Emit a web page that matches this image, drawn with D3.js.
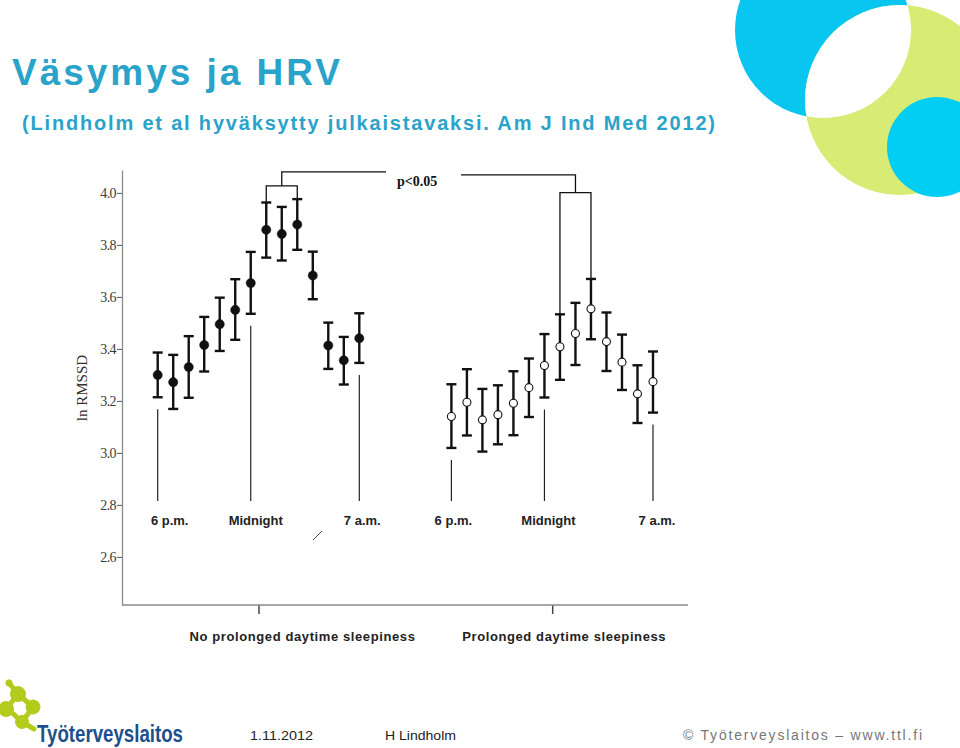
<!DOCTYPE html>
<html><head><meta charset="utf-8">
<script src="https://cdn.jsdelivr.net/npm/d3@7"></script>
<style>body{margin:0;background:#fff}svg{display:block}</style>
</head><body>
<script>
// ---------- data ----------
const groups = ["No prolonged daytime sleepiness", "Prolonged daytime sleepiness"];
const yTicks = [2.6, 2.8, 3.0, 3.2, 3.4, 3.6, 3.8, 4.0];
const timeLabels = ["6 p.m.", "Midnight", "7 a.m."];
const timeIndex = [0, 6, 13];
const noSleepMean = [3.300, 3.272, 3.330, 3.415, 3.495, 3.550, 3.653, 3.858, 3.842, 3.878, 3.682, 3.413, 3.356, 3.441];
const noSleepHigh = [3.386, 3.377, 3.449, 3.523, 3.597, 3.668, 3.773, 3.963, 3.946, 3.976, 3.774, 3.501, 3.446, 3.537];
const noSleepLow  = [3.214, 3.169, 3.212, 3.313, 3.392, 3.435, 3.535, 3.751, 3.740, 3.781, 3.591, 3.323, 3.263, 3.346];
const sleepMean = [3.140, 3.195, 3.127, 3.147, 3.191, 3.251, 3.336, 3.408, 3.459, 3.554, 3.428, 3.349, 3.227, 3.274];
const sleepHigh = [3.264, 3.322, 3.246, 3.260, 3.314, 3.363, 3.457, 3.533, 3.577, 3.669, 3.540, 3.455, 3.337, 3.390];
const sleepLow  = [3.019, 3.067, 3.005, 3.033, 3.068, 3.138, 3.213, 3.281, 3.338, 3.437, 3.315, 3.242, 3.115, 3.155];
const pLabel = "p<0.05";

const W = 960, H = 748;
const svg = d3.select("body").append("svg").attr("width", W).attr("height", H)
  .style("background", "#fff");

// ---------- decorative circles ----------
const deco = svg.append("g");
deco.append("clipPath").attr("id", "blueClip").append("circle").attr("cx", 823).attr("cy", 30).attr("r", 88);
deco.append("circle").attr("cx", 823).attr("cy", 30).attr("r", 88).attr("fill", "#08c6ef");
deco.append("circle").attr("cx", 900).attr("cy", 100).attr("r", 95).attr("fill", "#d8eb74");
deco.append("circle").attr("cx", 900).attr("cy", 100).attr("r", 95).attr("fill", "#fff").attr("clip-path", "url(#blueClip)");
deco.append("circle").attr("cx", 937).attr("cy", 147).attr("r", 50).attr("fill", "#02cdf2");

// ---------- titles ----------
svg.append("text").attr("x", 12).attr("y", 85).text("Väsymys ja HRV")
  .attr("font-family", "Liberation Sans, Arial, sans-serif").attr("font-weight", "bold")
  .attr("font-size", 37).attr("fill", "#2aa3ca").attr("textLength", 328).attr("lengthAdjust", "spacing");
svg.append("text").attr("x", 22).attr("y", 130).text("(Lindholm et al hyväksytty julkaistavaksi. Am J Ind Med 2012)")
  .attr("font-family", "Liberation Sans, Arial, sans-serif").attr("font-weight", "bold")
  .attr("font-size", 20).attr("fill", "#2aa3ca").attr("textLength", 693).attr("lengthAdjust", "spacing");

// ---------- scales ----------
const y = d3.scaleLinear().domain([2.415, 4.088]).range([605, 170]);
const gx = d3.scalePoint().domain(groups).range([258.5, 552.2]);
const xi = d3.scaleLinear().domain([0, 13]).range([-100.8, 100.8]);
const series = [
  {g: groups[0], mean: noSleepMean, hi: noSleepHigh, lo: noSleepLow, open: false},
  {g: groups[1], mean: sleepMean, hi: sleepHigh, lo: sleepLow, open: true}
];

// ---------- axes ----------
const yAxis = svg.append("g").attr("transform", "translate(122,0)")
  .call(d3.axisLeft(y).tickValues(yTicks).tickFormat(d3.format(".1f")).tickSize(5).tickSizeOuter(0));
yAxis.select(".domain").attr("stroke", "#8a8a8a").attr("stroke-width", 1.3);
yAxis.selectAll(".tick line").attr("stroke", "#555");
yAxis.selectAll(".tick text").attr("font-family", "Liberation Serif, Times New Roman, serif")
  .attr("font-size", 14).attr("fill", "#3a3a3a").attr("letter-spacing", -0.6).attr("x", -6);

const xAxis = svg.append("g").attr("transform", "translate(0,605)")
  .call(d3.axisBottom(gx).tickSize(9).tickFormat(""));
xAxis.select(".domain").remove();
xAxis.selectAll(".tick line").attr("stroke", "#444").attr("stroke-width", 1.5);
svg.append("line").attr("x1", 122).attr("x2", 688).attr("y1", 605).attr("y2", 605)
  .attr("stroke", "#8a8a8a").attr("stroke-width", 1.3);

svg.append("text").attr("transform", "translate(87,388) rotate(-90)").attr("text-anchor", "middle")
  .text("ln RMSSD").attr("font-family", "Liberation Serif, Times New Roman, serif")
  .attr("font-size", 15).attr("fill", "#333");

const groupDx = [44, 12];
groups.forEach((g, i) => {
  svg.append("text").attr("x", gx(g) + groupDx[i]).attr("y", 641).attr("text-anchor", "middle")
    .text(g).attr("font-family", "Liberation Sans, Arial, sans-serif").attr("font-weight", "bold")
    .attr("font-size", 13).attr("fill", "#222").attr("letter-spacing", 0.6);
});

// ---------- series ----------
const labelDx = [[12, 5, 3], [2, 4, 4]];
series.forEach((s, si) => {
  const g = svg.append("g");
  const cx = i => gx(s.g) + xi(i);
  timeIndex.forEach((ti, k) => {
    g.append("line").attr("x1", cx(ti)).attr("x2", cx(ti))
      .attr("y1", y(s.lo[ti]) + 12).attr("y2", 501).attr("stroke", "#222").attr("stroke-width", 1.2);
    g.append("text").attr("x", cx(ti) + labelDx[si][k]).attr("y", 525).attr("text-anchor", "middle")
      .text(timeLabels[k]).attr("font-family", "Liberation Sans, Arial, sans-serif")
      .attr("font-weight", "bold").attr("font-size", 13).attr("fill", "#222");
  });
  s.mean.forEach((m, i) => {
    const x = cx(i);
    g.append("line").attr("x1", x).attr("x2", x).attr("y1", y(s.hi[i])).attr("y2", y(s.lo[i]))
      .attr("stroke", "#111").attr("stroke-width", 2.4);
    [s.hi[i], s.lo[i]].forEach(v => g.append("line").attr("x1", x - 5).attr("x2", x + 5)
      .attr("y1", y(v)).attr("y2", y(v)).attr("stroke", "#111").attr("stroke-width", 2.4));
    g.append("circle").attr("cx", x).attr("cy", y(m)).attr("r", s.open ? 4 : 4.6)
      .attr("fill", s.open ? "#fff" : "#111").attr("stroke", "#111").attr("stroke-width", s.open ? 1.1 : 0.5);
  });
});

// ---------- significance brackets ----------
const br = svg.append("g").attr("fill", "none").attr("stroke", "#111").attr("stroke-width", 1.3);
{
  const s = series[0], xa = gx(s.g) + xi(7), xb = gx(s.g) + xi(9), xm = (xa + xb) / 2;
  br.append("path").attr("d", `M${xa},${y(s.hi[7])}V${y(4.027)}H${xb}V${y(s.hi[9])}M${xm},${y(4.027)}V${y(4.081)}H386`);
}
{
  const s = series[1], xa = gx(s.g) + xi(7), xb = gx(s.g) + xi(9), xm = (xa + xb) / 2;
  br.append("path").attr("d", `M${xa},${y(s.hi[7])}V${y(4.001)}H${xb}V${y(s.hi[9])}M${xm},${y(4.001)}V${y(4.069)}H461`);
}
svg.append("text").attr("x", 397).attr("y", 186).text(pLabel)
  .attr("font-family", "Liberation Serif, Times New Roman, serif").attr("font-weight", "bold")
  .attr("font-size", 14).attr("fill", "#111");
svg.append("line").attr("x1", 313).attr("y1", 540).attr("x2", 322).attr("y2", 531)
  .attr("stroke", "#333").attr("stroke-width", 0.9);

// ---------- footer ----------
const logo = svg.append("g").attr("fill", "#b3cb1d").attr("stroke", "#b3cb1d");
logo.append("circle").attr("cx", 9).attr("cy", 683).attr("r", 3.2);
logo.append("path").attr("fill", "none").attr("stroke-width", 5).attr("stroke-linecap", "round")
  .attr("d", "M9,683 L18,694 M18,694 L7,708 M18,694 L33,707 M7,708 L22,722 M33,707 L22,722 M22,722 L34,729");
logo.append("circle").attr("cx", 18).attr("cy", 694).attr("r", 7.5);
logo.append("circle").attr("cx", 6).attr("cy", 709).attr("r", 7.5);
logo.append("circle").attr("cx", 33).attr("cy", 707).attr("r", 7);
logo.append("circle").attr("cx", 22).attr("cy", 722).attr("r", 6.5);
svg.append("text").attr("x", 37).attr("y", 742).text("Työterveyslaitos")
  .attr("font-family", "Liberation Sans Narrow, Liberation Sans, Arial, sans-serif").attr("font-weight", "bold")
  .attr("font-size", 24).attr("fill", "#1d4f8c").attr("textLength", 146).attr("lengthAdjust", "spacingAndGlyphs");

const foot = [["1.11.2012", 250, 63], ["H Lindholm", 385, 71]];
foot.forEach(f => svg.append("text").attr("x", f[1]).attr("y", 740).text(f[0])
  .attr("font-family", "Liberation Sans, Arial, sans-serif").attr("font-size", 13).attr("fill", "#222")
  .attr("textLength", f[2]).attr("lengthAdjust", "spacingAndGlyphs"));
svg.append("text").attr("x", 683).attr("y", 740).text("© Työterveyslaitos  –  www.ttl.fi")
  .attr("font-family", "Liberation Sans, Arial, sans-serif").attr("font-size", 14).attr("fill", "#777")
  .attr("textLength", 239).attr("lengthAdjust", "spacing");
</script>
</body></html>
